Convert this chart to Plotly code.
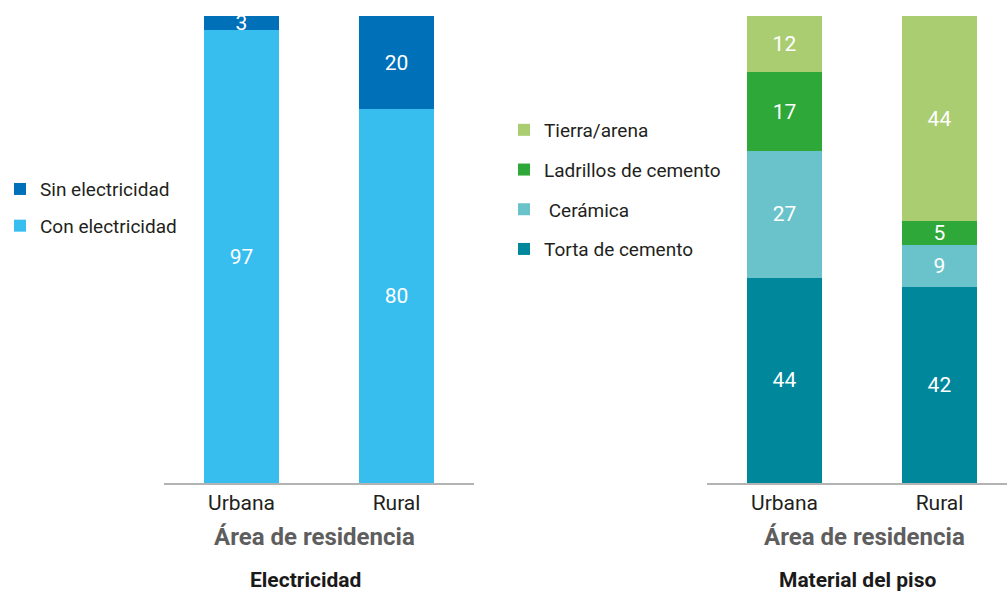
import plotly.graph_objects as go

areas = ["Urbana", "Rural"]

# Electricidad (%)
con_electricidad = [97, 80]
sin_electricidad = [3, 20]

# Material del piso (%)
torta_cemento = [44, 42]
ceramica = [27, 9]
ladrillos_cemento = [17, 5]
tierra_arena = [12, 44]

FONT = "Roboto, Arial, sans-serif"
TXT = dict(family=FONT, size=21, color="white")

fig = go.Figure()

def add_bar(y, name, color, xa, ya, legend, group, rank):
    fig.add_trace(go.Bar(
        x=areas, y=y, name=name, marker=dict(color=color, line=dict(width=0)),
        xaxis=xa, yaxis=ya, width=0.484,
        text=[str(v) for v in y], textposition="inside", insidetextanchor="middle",
        constraintext="none", insidetextfont=TXT, textangle=0,
        legend=legend, legendgroup=group, legendrank=rank, hoverinfo="skip"))

add_bar(con_electricidad, "Con electricidad", "#38BDEF", "x", "y", "legend", "a1", 2)
add_bar(sin_electricidad, "Sin electricidad", "#0070B8", "x", "y", "legend", "a2", 1)

add_bar(torta_cemento, "Torta de cemento", "#00879C", "x2", "y2", "legend2", "b1", 4)
add_bar(ceramica, " Cerámica", "#6AC3CB", "x2", "y2", "legend2", "b2", 3)
add_bar(ladrillos_cemento, "Ladrillos de cemento", "#2EA838", "x2", "y2", "legend2", "b3", 2)
add_bar(tierra_arena, "Tierra/arena", "#AACD72", "x2", "y2", "legend2", "b4", 1)

axis_common = dict(
    showgrid=False, zeroline=False, showline=True, linecolor="#B3B3B3", linewidth=2,
    ticks="", tickfont=dict(family=FONT, size=21, color="#231F20"), fixedrange=True,
)
yaxis_common = dict(range=[0, 100], visible=False, showgrid=False, zeroline=False, fixedrange=True)

fig.update_layout(
    width=1007, height=593,
    margin=dict(l=0, r=0, t=16, b=110, autoexpand=False),
    paper_bgcolor="white", plot_bgcolor="white",
    barmode="stack", bargap=0,
    font=dict(family=FONT),
    xaxis=dict(domain=[164/1007, 474/1007], range=[-0.5, 1.5], anchor="y", **axis_common),
    xaxis2=dict(domain=[707/1007, 1.0], range=[-0.5, 1.4355], anchor="y2", **axis_common),
    yaxis=dict(domain=[0, 1], anchor="x", **yaxis_common),
    yaxis2=dict(domain=[0, 1], anchor="x2", **yaxis_common),
    legend=dict(x=0.0, xanchor="left", y=0.670, yanchor="top",
                traceorder="grouped", tracegroupgap=9,
                font=dict(family=FONT, size=19, color="#231F20"),
                bgcolor="rgba(0,0,0,0)", itemclick=False, itemdoubleclick=False),
    legend2=dict(x=504/1007, xanchor="left", y=0.7966, yanchor="top",
                 traceorder="grouped", tracegroupgap=12,
                 font=dict(family=FONT, size=19, color="#231F20"),
                 bgcolor="rgba(0,0,0,0)", itemclick=False, itemdoubleclick=False),
    showlegend=True,
)

# Axis titles and panel titles
fig.add_annotation(text="<b>Área de residencia</b>", xref="x", yref="paper", x=0.474, y=-0.1156,
                   yanchor="middle", showarrow=False,
                   font=dict(family=FONT, size=24, color="#5E5E5E"))
fig.add_annotation(text="<b>Área de residencia</b>", xref="x2", yref="paper", x=0.519, y=-0.1156,
                   yanchor="middle", showarrow=False,
                   font=dict(family=FONT, size=24, color="#5E5E5E"))
fig.add_annotation(text="<b>Electricidad</b>", xref="x", yref="paper", x=0.41, y=-0.2077,
                   yanchor="middle", showarrow=False,
                   font=dict(family=FONT, size=21, color="#1A1A1A"))
fig.add_annotation(text="<b>Material del piso</b>", xref="x2", yref="paper", x=0.468, y=-0.2077,
                   yanchor="middle", showarrow=False,
                   font=dict(family=FONT, size=21, color="#1A1A1A"))

fig.write_html("out.html", config={"displayModeBar": False, "staticPlot": True},
               post_script="document.body.style.margin='0';")
